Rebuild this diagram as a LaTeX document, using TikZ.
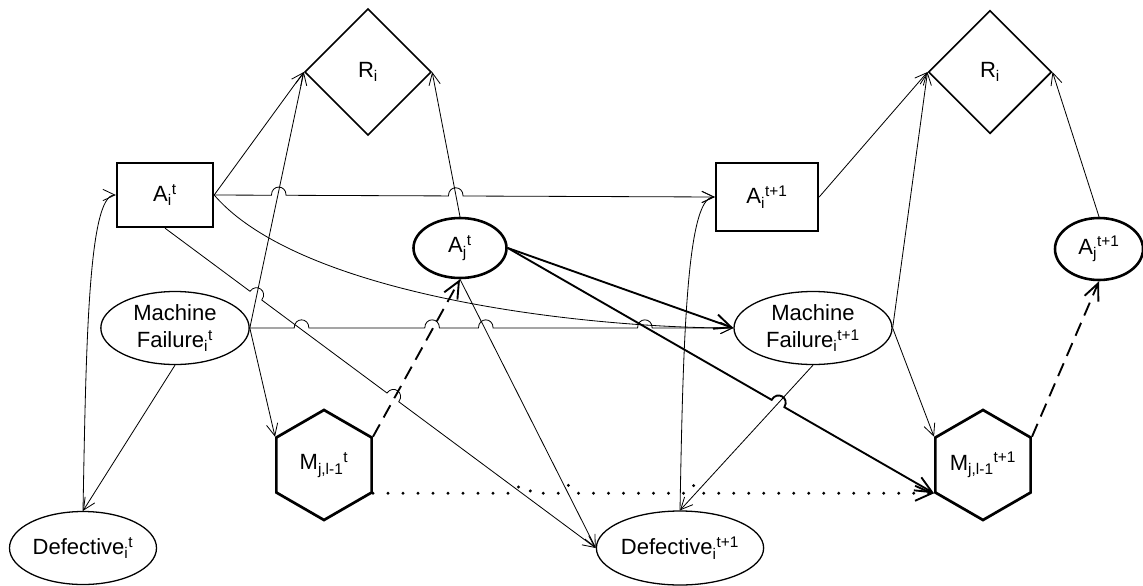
\documentclass[tikz,border=0pt]{standalone}
\usepackage{fontspec}
\setmainfont{Liberation Sans}
\usetikzlibrary{arrows.meta,calc,shapes.geometric}

\begin{document}
\begin{tikzpicture}[x=0.03cm, y=-0.03cm,
    every node/.style={font=\fontsize{18.8}{23}\selectfont, inner sep=0pt, align=center},
    act/.style={draw, line width=2pt, minimum width=2.9cm, minimum height=1.95cm},
    util/.style={draw, diamond, line width=1.4pt, minimum width=3.8cm, minimum height=3.8cm},
    dec/.style={draw, ellipse, line width=2.2pt, minimum width=2.75cm, minimum height=1.82cm},
    chance/.style={draw, ellipse, line width=1.1pt, minimum width=4.45cm, minimum height=2.19cm},
    hexa/.style={draw, regular polygon, regular polygon sides=6, shape border rotate=30,
                 line width=2.3pt, minimum size=3.3cm},
    link/.style={-{Straight Barb[length=0.36cm,width=0.34cm]}, line width=0.7pt},
    strong/.style={-{Straight Barb[length=0.5cm,width=0.45cm]}, line width=1.6pt},
    infolink/.style={strong, dash pattern=on 0.42cm off 0.24cm},
    memolink/.style={-{Straight Barb[length=0.5cm,width=0.45cm,line width=1.6pt]},
                     line width=2.8pt, line cap=round, dash pattern=on 0pt off 0.45cm},
    jump/.style 2 args={insert path={-- ($(#1)!0.22cm!(#2)$)
                        to[bend left=90, looseness=1.9] ($(#1)!-0.22cm!(#2)$)}}]
    \useasboundingbox (0,0) rectangle (1143,586);
    % slice t
    \node[util] (RiA) at (368,72) {R\textsubscript{i}};
    \node[act, minimum width=2.88cm, minimum height=1.92cm] (Ait) at (165,195) {A\textsubscript{i}\textsuperscript{t}};
    \node[dec, minimum width=2.79cm, minimum height=1.8cm] (Ajt) at (460,248) {A\textsubscript{j}\textsuperscript{t}};
    \node[chance] (MFt) at (175,328) {Machine\\Failure\textsubscript{i}\textsuperscript{t}};
    \node[hexa] (Mt) at (324,465) {M\textsubscript{j,l-1}\textsuperscript{t}};
    \node[chance, minimum width=4.41cm] (Deft) at (83,548) {Defective\textsubscript{i}\textsuperscript{t}};
    % slice t+1
    \node[util, minimum width=3.7cm, minimum height=3.7cm] (RiB) at (990,72) {R\textsubscript{i}};
    \node[act, minimum width=3.06cm, minimum height=2.04cm] (Ait1) at (767,197) {A\textsubscript{i}\textsuperscript{t+1}};
    \node[dec, minimum width=2.64cm, minimum height=1.86cm] (Ajt1) at (1099,249) {A\textsubscript{j}\textsuperscript{t+1}};
    \node[chance, minimum width=4.74cm] (MFt1) at (813,328) {Machine\\Failure\textsubscript{i}\textsuperscript{t+1}};
    \node[hexa] (Mt1) at (983,465) {M\textsubscript{j,l-1}\textsuperscript{t+1}};
    \node[chance, minimum width=4.98cm, minimum height=2.22cm] (Deft1) at (680,548) {Defective\textsubscript{i}\textsuperscript{t+1}};
    % line jumps
    \coordinate (j1) at ($(Ait.east)!0.129!(Ait1.west)$);
    \coordinate (j2) at ($(Ait.east)!0.4825!(Ait1.west)$);
    \coordinate (j3) at ($(Ait.south)!0.211!(Deft1.west)$);
    \coordinate (j4) at ($(Ait.south)!0.529!(Deft1.west)$);
    \coordinate (j5) at ($(MFt.east)!0.107!(MFt1.west)$);
    \coordinate (j6) at ($(MFt.east)!0.377!(MFt1.west)$);
    \coordinate (j7) at ($(MFt.east)!0.488!(MFt1.west)$);
    \coordinate (j8) at ($(MFt.east)!0.817!(MFt1.west)$);
    \coordinate (j9) at ($(Ajt.east)!0.634!(Mt1.210)$);
    \coordinate (j10) at ($(Mt.330)!0.268!(Mt1.210)$);
    \coordinate (j11) at ($(Mt.330)!0.350!(Mt1.210)$);
    \coordinate (j12) at ($(Mt.330)!0.576!(Mt1.210)$);
    % arcs into the utilities
    \draw[link] (Ait.east) -- (RiA.west);
    \draw[link] (MFt.east) -- (RiA.west);
    \draw[link] (Ajt.north) -- (RiA.east);
    \draw[link] (Ait1.east) -- (RiB.west);
    \draw[link] (MFt1.east) -- (RiB.west);
    \draw[link] (Ajt1.north) -- (RiB.east);
    % within a slice
    \draw[link] (Deft.north) .. controls (86,350) and (88,195) .. (Ait.west);
    \draw[link] (Deft1.north) .. controls (683,350) and (686,197) .. (Ait1.west);
    \draw[link] (MFt.south) -- (Deft.north);
    \draw[link] (MFt1.south) -- (Deft1.north);
    \draw[link] (MFt.east) -- (Mt.150);
    \draw[link] (MFt1.east) -- (Mt1.150);
    \draw[infolink] (Mt.30) -- (Ajt.south);
    \draw[infolink] (Mt1.30) -- (Ajt1.south);
    % from t to t+1
    \draw[link] (Ait.east) [jump={j1}{Ait.east}] [jump={j2}{Ait.east}] -- (Ait1.west);
    \draw[link] (Ait.east) .. controls (300,295) and (580,328) .. (MFt1.west);
    \draw[link] (Ait.south) [jump={j3}{Ait.south}] [jump={j4}{Ait.south}] -- (Deft1.west);
    \draw[link] (Ajt.south) -- (Deft1.west);
    \draw[link] (MFt.east) [jump={j5}{MFt.east}] [jump={j6}{MFt.east}]
        [jump={j7}{MFt.east}] [jump={j8}{MFt.east}] -- (MFt1.west);
    \draw[strong] (Ajt.east) -- (MFt1.west);
    \draw[strong] (Ajt.east) [jump={j9}{Ajt.east}] -- (Mt1.210);
    \draw[memolink] (Mt.330) [jump={j10}{Mt.330}] [jump={j11}{Mt.330}]
        [jump={j12}{Mt.330}] -- (Mt1.210);
\end{tikzpicture}
\end{document}
